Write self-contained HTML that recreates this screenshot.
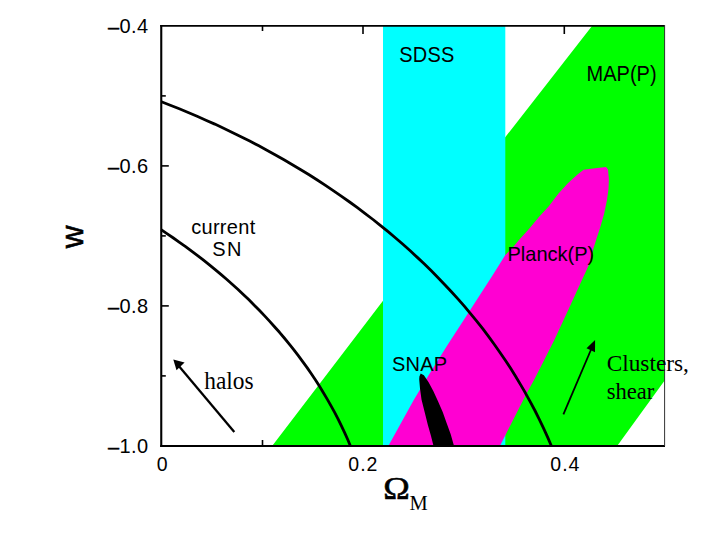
<!DOCTYPE html>
<html>
<head>
<meta charset="utf-8">
<title>w vs Omega_M</title>
<style>
html,body{margin:0;padding:0;background:#fff;}
body{width:720px;height:540px;overflow:hidden;position:relative;}
svg{position:absolute;left:0;top:0;display:block;}
.sans{font-family:"Liberation Sans",Arial,Helvetica,sans-serif;fill:#000;}
.serif{font-family:"Liberation Serif","Times New Roman",Times,serif;fill:#000;}
</style>
</head>
<body>
<svg width="720" height="540" viewBox="0 0 720 540">
  <rect x="0" y="0" width="720" height="540" fill="#ffffff"/>
  <defs><clipPath id="plotclip"><rect x="160.2" y="25" width="504.9" height="421.8"/></clipPath></defs>

  <!-- axis ticks (drawn under the colour regions) -->
  <g stroke="#000" stroke-width="1.6" fill="none">
    <!-- left axis ticks -->
    <line x1="161" y1="95.9" x2="165.8" y2="95.9"/>
    <line x1="161" y1="165.9" x2="168.8" y2="165.9"/>
    <line x1="161" y1="235.9" x2="165.8" y2="235.9"/>
    <line x1="161" y1="305.9" x2="168.8" y2="305.9"/>
    <line x1="161" y1="375.9" x2="165.8" y2="375.9"/>
    <!-- top ticks -->
    <line x1="262.5" y1="26" x2="262.5" y2="31"/>
    <line x1="363" y1="26" x2="363" y2="34"/>
    <line x1="464" y1="26" x2="464" y2="31"/>
    <line x1="564.3" y1="26" x2="564.3" y2="34"/>
    <!-- bottom ticks -->
    <line x1="262.5" y1="445" x2="262.5" y2="440"/>
    <line x1="363" y1="445" x2="363" y2="437"/>
    <line x1="464" y1="445" x2="464" y2="440"/>
    <line x1="564.3" y1="445" x2="564.3" y2="437"/>
  </g>

  <!-- MAP(P) green band -->
  <polygon fill="#00ff00" points="592,26 665,26 665,380 617.5,445.5 272.5,445.5 383,300.8 383,290 505,290 505,137.5"/>
  <!-- SDSS cyan band -->
  <rect x="383" y="26" width="122.3" height="419.5" fill="#00ffff"/>
  <!-- Planck(P) magenta -->
  <path fill="#ff00d2" d="M388.6,445.5 L413.75,400 L428.75,375 L447.5,345 L463.75,320 L492.8,275 L505.3,255 L513.6,246.5 L519.4,239.4 L529.2,228.75 L538.9,217.1 L548.6,206.4 L558.3,193.75 L568.1,183 L577.8,174.3 L583.6,169.8 L597.2,168.1 L606,167 L608,169.4 L608.9,179.2 L608.5,188.9 L606.9,200.6 L604,214.2 L600.1,227.8 L596.25,239.4 L591.4,255 L590,262.5 L580.8,282.5 L568.7,309 L554.3,340 L544.2,360 L534,380 L526.7,393.3 L515.6,415 L500.2,445.5 Z"/>
  <!-- SNAP black -->
  <path fill="#000" d="M420.7,373.5 L419.4,376.5 L419.2,379.2 L420,388.6 L421.5,399.6 L424.7,412.2 L427.8,424.8 L431,435.9 L433.4,445.5 L453.9,445.5 L450.7,434.3 L446.7,423.3 L442.8,412.2 L438,401.2 L433.3,391 L428.6,382.3 L423.9,375.2 Z"/>

  <!-- axes frame -->
  <g stroke="#000" fill="none">
    <line x1="161.25" y1="25" x2="161.25" y2="446.9" stroke-width="2.1"/>
    <line x1="160.2" y1="445.95" x2="665" y2="445.95" stroke-width="1.9"/>
    <line x1="160.2" y1="25.9" x2="665" y2="25.9" stroke-width="1.7"/>
    <line x1="664.6" y1="25" x2="664.6" y2="446" stroke-width="1" stroke="#333"/>
  </g>

  <!-- current SN contours -->
  <g stroke="#000" fill="none" stroke-width="2.8" stroke-linecap="butt" stroke-linejoin="round" clip-path="url(#plotclip)">
    <polyline points="161.4,101.7 170.3,105.2 179.3,108.8 188.2,112.5 197.1,116.3 205.9,120.2 214.8,124.1 223.6,128.2 232.3,132.4 241.0,136.7 249.7,141.1 258.4,145.6 266.9,150.2 275.5,155.0 284.0,159.8 292.4,164.7 300.8,169.7 309.1,174.8 317.3,180.0 325.5,185.4 333.6,190.8 341.6,196.3 349.6,202.0 357.4,207.7 365.2,213.6 373.0,219.5 380.6,225.6 388.1,231.7 395.6,238.0 402.9,244.3 410.2,250.8 417.3,257.4 424.4,264.0 431.3,270.8 438.1,277.7 444.8,284.7 451.4,291.7 457.9,298.9 464.3,306.2 470.5,313.6 476.7,321.1 482.7,328.7 488.5,336.4 494.2,344.3 499.8,352.2 505.3,360.2 510.6,368.3 515.7,376.6 520.7,384.9 525.6,393.3 530.3,401.9 534.9,410.5 539.3,419.3 543.5,428.1 547.6,437.1 551.5,446.2"/>
    <polyline points="161.1,229.6 167.3,233.8 173.4,238.0 179.5,242.3 185.6,246.6 191.6,251.1 197.6,255.6 203.5,260.2 209.4,264.9 215.2,269.6 220.9,274.4 226.6,279.3 232.2,284.3 237.8,289.3 243.3,294.5 248.7,299.6 254.0,304.9 259.3,310.2 264.4,315.6 269.5,321.1 274.5,326.7 279.5,332.3 284.3,338.0 289.1,343.8 293.7,349.6 298.3,355.6 302.7,361.6 307.1,367.6 311.3,373.8 315.5,380.0 319.5,386.3 323.4,392.7 327.2,399.1 330.9,405.6 334.5,412.2 338.0,418.9 341.3,425.6 344.5,432.4 347.6,439.3 350.5,446.2"/>
  </g>

  <!-- arrows -->
  <g stroke="#000" fill="none">
    <line x1="234.3" y1="432" x2="178" y2="365" stroke-width="2.3"/>
    <line x1="563.4" y1="414.4" x2="591.5" y2="348.5" stroke-width="1.8"/>
  </g>
  <polygon fill="#000" points="173.3,359.5 184.6,362.6 176.5,370.2"/>
  <polygon fill="#000" points="595.1,340 595,352.2 586.5,348.3"/>

  <!-- tick labels -->
  <g class="sans" font-size="20">
    <text transform="translate(107.9,32.7) scale(1,1.01)" textLength="40.3" lengthAdjust="spacing"><tspan stroke="#000" stroke-width="0.4" dy="1.3">–</tspan><tspan dy="-1.3">0.4</tspan></text>
    <text transform="translate(107.9,172.6) scale(1,1.01)" textLength="40.3" lengthAdjust="spacing"><tspan stroke="#000" stroke-width="0.4" dy="1.3">–</tspan><tspan dy="-1.3">0.6</tspan></text>
    <text transform="translate(107.9,312.6) scale(1,1.01)" textLength="40.3" lengthAdjust="spacing"><tspan stroke="#000" stroke-width="0.4" dy="1.3">–</tspan><tspan dy="-1.3">0.8</tspan></text>
    <text transform="translate(107.9,452.9) scale(1,1.01)" textLength="40.3" lengthAdjust="spacing"><tspan stroke="#000" stroke-width="0.4" dy="1.3">–</tspan><tspan dy="-1.3">1.0</tspan></text>
  </g>
  <g class="sans" font-size="19.5">
    <text x="156.8" y="470.7">0</text>
    <text x="348.2 360.2 366.5" y="470.7">0.2</text>
    <text x="550.2 562.2 568.5" y="470.7">0.4</text>
  </g>

  <!-- region labels -->
  <g class="sans" font-size="20">
    <text transform="translate(399.2,61.5) scale(1,1.075)" textLength="55.2" lengthAdjust="spacing">SDSS</text>
    <text transform="translate(586.6,80.9) scale(1,1.075)">MAP(P)</text>
    <text transform="translate(507.5,260.9) scale(1,1.04)">Planck(P)</text>
    <text transform="translate(392,370.7)" textLength="55" lengthAdjust="spacing">SNAP</text>
    <text transform="translate(191.2,234.1)" textLength="64" lengthAdjust="spacing">current</text>
    <text transform="translate(212.2,255.5)" textLength="29.3" lengthAdjust="spacing">SN</text>
  </g>

  <!-- axis labels -->
  <text class="sans" font-size="31.5" transform="translate(82.9,248.2) rotate(-90)" stroke="#000" stroke-width="0.6">w</text>
  <text class="serif" font-size="32.5" transform="translate(383.3,498.9) scale(1.1,1)" stroke="#000" stroke-width="0.6">Ω</text>
  <text class="serif" font-size="20.5" x="409.5" y="509.5">M</text>

  <!-- annotations -->
  <g class="serif" font-size="24">
    <text x="204.2" y="389" font-size="24.6" textLength="49.4" lengthAdjust="spacingAndGlyphs">halos</text>
    <text x="606.7" y="371.1" textLength="82.2" lengthAdjust="spacingAndGlyphs">Clusters,</text>
    <text x="606.7" y="398.6" textLength="47.7" lengthAdjust="spacingAndGlyphs">shear</text>
  </g>
</svg>
</body>
</html>
